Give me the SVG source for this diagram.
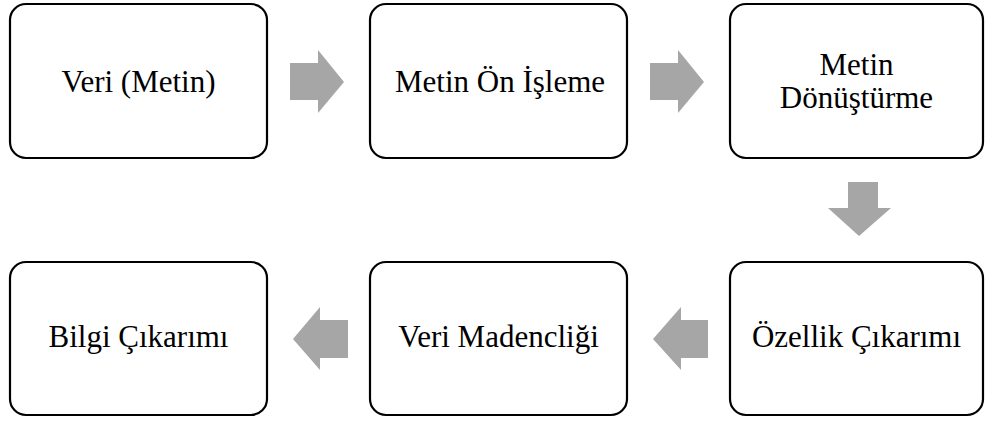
<svg xmlns="http://www.w3.org/2000/svg" width="985" height="422" viewBox="0 0 985 422">
<style>
.box{fill:#fff;stroke:#000;stroke-width:2.2}
.arr{fill:#a6a6a6}
</style>
<rect width="985" height="422" fill="#fff"/>
<g font-family="'Liberation Serif', 'Times New Roman', 'DejaVu Serif', serif" font-size="31" fill="#000" text-anchor="middle">
<g id="n1"><rect class="box" x="10" y="4" width="257" height="154" rx="16"/><text x="138.5" y="92">Veri (Metin)</text></g>
<g id="n2"><rect class="box" x="370" y="4" width="257" height="154" rx="16"/><text x="500" y="92">Metin Ön İşleme</text></g>
<g id="n3"><rect class="box" x="730" y="4" width="253" height="154" rx="16"/><text x="856.5" y="75">Metin</text><text x="856.5" y="108">Dönüştürme</text></g>
<g id="n4"><rect class="box" x="730" y="262" width="253" height="153" rx="16"/><text x="856.5" y="347">Özellik Çıkarımı</text></g>
<g id="n5"><rect class="box" x="370" y="262" width="257" height="153" rx="16"/><text x="498.5" y="347">Veri Madencliği</text></g>
<g id="n6"><rect class="box" x="10" y="262" width="257" height="153" rx="16"/><text x="138.5" y="347">Bilgi Çıkarımı</text></g>
</g>
<g id="connectors">
<polygon class="arr" points="290,63 318,63 318,50 344,82 318,113 318,100 290,100"/>
<polygon class="arr" points="650,63 678,63 678,50 704,82 678,113 678,100 650,100"/>
<polygon class="arr" points="848,182 878,182 878,208 891,208 859,236 828,208 848,208"/>
<polygon class="arr" points="708,320 681,320 681,307 653,339 681,370 681,358 708,358"/>
<polygon class="arr" points="348,320 320,320 320,307 293,339 320,370 320,358 348,358"/>
</g>
</svg>
